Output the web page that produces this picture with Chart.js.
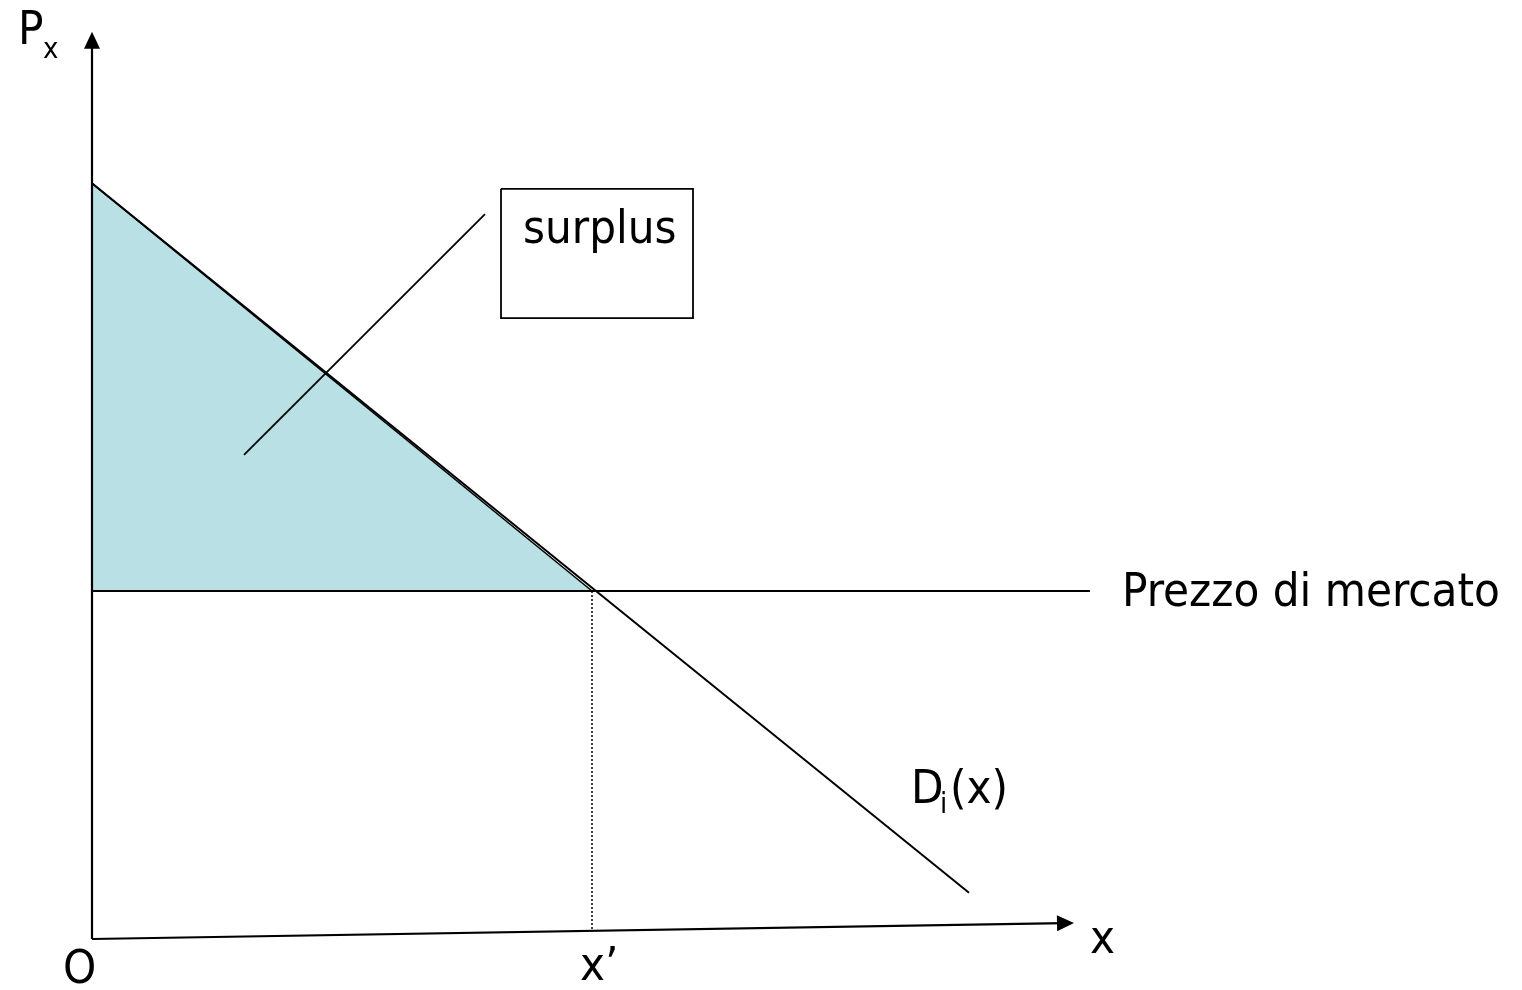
<!DOCTYPE html>
<html>
<head>
<meta charset="utf-8">
<script src="https://cdn.jsdelivr.net/npm/chart.js@4/dist/chart.umd.min.js"></script>
<style>
  html, body { margin: 0; padding: 0; background: #fff; }
  #wrap { width: 1522px; height: 990px; position: relative; }
</style>
</head>
<body>
<div id="wrap"><canvas id="surplusChart"></canvas></div>
<script>
// Diagram values (quantity on x, price on y)
const marketPrice = 7;
const xPrime = 10;
const demandQty = [0, 17.54];
const demandPrice = [15.2, 0.93];
const surplusQty = [0, 10];
const surplusPrice = [15.2, 7];
const priceLineQty = [0, 19.96];
const axisXQty = [0, 19.64];
const axisXPrice = [0, 0.32];
const axisYTop = 18.25;
const pointerQty = [3.04, 7.86];
const pointerPrice = [9.74, 14.58];
const boxQty = [8.18, 12.02];
const boxPrice = [15.09, 12.49];

// map units -> canvas
const X0PX = 92, Y0PX = 939, XUNIT = 50, YUNIT = 348 / 7;
const W = 1522, H = 990;

const FONT = "'DejaVu Sans Condensed', 'DejaVu Sans', sans-serif";

function pts(xs, ys) {
    return xs.map((x, i) => ({ x: x, y: ys[i] }));
}

function lineSet(data, extra) {
    return Object.assign({
        data: data,
        showLine: true,
        borderColor: '#000',
        borderWidth: 2.2,
        pointRadius: 0,
        fill: false,
        tension: 0,
        order: 1
    }, extra || {});
}

// text labels at data positions (left edge, baseline)
const labels = [
    { t: 'P', x: -1.48, y: 18.0, size: 47 },
    { t: 'x', x: -0.98, y: 17.72, size: 29 },
    { t: 'O', x: -0.58, y: -0.88, size: 47 },
    { t: 'x\u2019', x: 9.76, y: -0.82, size: 47 },
    { t: 'x', x: 19.96, y: -0.28, size: 47 },
    { t: 'D', x: 16.38, y: 2.74, size: 47 },
    { t: 'i', x: 16.96, y: 2.54, size: 29 },
    { t: '(x)', x: 17.16, y: 2.74, size: 47 },
    { t: 'surplus', x: 8.62, y: 14.0, size: 47 },
    { t: 'Prezzo di mercato', x: 20.6, y: 6.70, size: 47 }
];

const overlayPlugin = {
    id: 'overlay',
    afterDatasetsDraw(chart) {
        const ctx = chart.ctx;
        const xs = chart.scales.x, ys = chart.scales.y;
        ctx.save();
        ctx.fillStyle = '#000';
        ctx.textBaseline = 'alphabetic';
        ctx.textAlign = 'left';
        labels.forEach(l => {
            ctx.font = l.size + 'px ' + FONT;
            ctx.fillText(l.t, xs.getPixelForValue(l.x), ys.getPixelForValue(l.y));
        });

        // arrow heads on both axes
        function arrow(x1, y1, x2, y2) {
            const ax = xs.getPixelForValue(x1), ay = ys.getPixelForValue(y1);
            const bx = xs.getPixelForValue(x2), by = ys.getPixelForValue(y2);
            const ang = Math.atan2(by - ay, bx - ax);
            const len = 17, half = 8;
            ctx.beginPath();
            ctx.moveTo(bx, by);
            ctx.lineTo(bx - len * Math.cos(ang) - half * Math.sin(ang), by - len * Math.sin(ang) + half * Math.cos(ang));
            ctx.lineTo(bx - len * Math.cos(ang) + half * Math.sin(ang), by - len * Math.sin(ang) - half * Math.cos(ang));
            ctx.closePath();
            ctx.fill();
        }
        arrow(0, 0, 0, axisYTop);
        arrow(axisXQty[0], axisXPrice[0], axisXQty[1], axisXPrice[1]);
        ctx.restore();
    }
};

new Chart(document.getElementById('surplusChart'), {
    type: 'scatter',
    data: {
        datasets: [
            // shaded consumer surplus, drawn underneath everything else
            lineSet(pts(surplusQty, surplusPrice), {
                fill: { value: marketPrice },
                backgroundColor: 'rgb(185, 224, 228)',
                borderWidth: 1.6,
                order: 10
            }),
            lineSet(pts(priceLineQty, [marketPrice, marketPrice])),
            lineSet(pts(demandQty, demandPrice), { borderWidth: 2 }),
            lineSet(pts([xPrime, xPrime], [marketPrice, 0.16]), { borderWidth: 1.5, borderDash: [2, 2] }),
            lineSet(pts([0, 0], [0, axisYTop - 0.2])),
            lineSet(pts([axisXQty[0], axisXQty[1] - 0.2], axisXPrice)),
            lineSet(pts(pointerQty, pointerPrice), { borderWidth: 1.8 }),
            lineSet(pts([boxQty[0], boxQty[1], boxQty[1], boxQty[0], boxQty[0]],
                        [boxPrice[0], boxPrice[0], boxPrice[1], boxPrice[1], boxPrice[0]]), { borderWidth: 1.8 })
        ]
    },
    options: {
        responsive: true,
        maintainAspectRatio: false,
        animation: false,
        layout: { padding: 0 },
        plugins: {
            legend: { display: false },
            tooltip: { enabled: false }
        },
        scales: {
            x: { type: 'linear', display: false, min: -X0PX / XUNIT, max: (W - X0PX) / XUNIT },
            y: { type: 'linear', display: false, min: -(H - Y0PX) / YUNIT, max: Y0PX / YUNIT }
        }
    },
    plugins: [overlayPlugin]
});
</script>
</body>
</html>
